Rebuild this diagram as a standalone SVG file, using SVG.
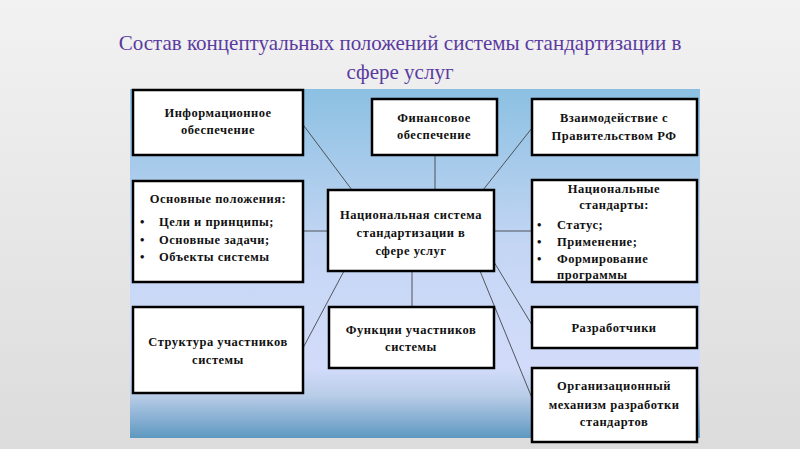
<svg xmlns="http://www.w3.org/2000/svg" width="800" height="449" viewBox="0 0 800 449">
<defs>
<linearGradient id="bg" x1="0" y1="0" x2="0" y2="1"><stop offset="0" stop-color="#f2f2f2"/><stop offset="1" stop-color="#dcdcdc"/></linearGradient>
<linearGradient id="pn" x1="0" y1="0" x2="0" y2="1">
<stop offset="0" stop-color="#8cc0e2"/><stop offset="0.45" stop-color="#c4d6f4"/><stop offset="0.8" stop-color="#d2dcfa"/><stop offset="0.88" stop-color="#b8cce8"/><stop offset="1" stop-color="#5e98c0"/></linearGradient>
</defs>
<style>
.b{fill:#fff;stroke:#000;stroke-width:2.5}
.t{font-family:"Liberation Serif","DejaVu Serif","Times New Roman",serif;font-size:12.5px;font-weight:bold;fill:#111;letter-spacing:0.5px}
.c{text-anchor:middle}
.h{font-family:"Liberation Serif","DejaVu Serif","Times New Roman",serif;font-size:21px;fill:#5a3aa0;text-anchor:middle}
#connectors line{stroke:#333;stroke-width:0.8}
</style>
<rect width="800" height="449" fill="url(#bg)"/>
<text class="h" x="400" y="50">Состав концептуальных  положений системы стандартизации в</text>
<text class="h" x="400" y="79">сфере услуг</text>
<rect x="130" y="89" width="570" height="349" fill="url(#pn)"/>
<g id="connectors">
<line x1="301" y1="122" x2="352" y2="190"/>
<line x1="435" y1="155" x2="435" y2="190"/>
<line x1="532" y1="128" x2="483" y2="190"/>
<line x1="303" y1="231" x2="328" y2="231"/>
<line x1="494" y1="231" x2="532" y2="231"/>
<line x1="344" y1="271" x2="303" y2="348"/>
<line x1="412" y1="271" x2="412" y2="307"/>
<line x1="480" y1="271" x2="532" y2="398"/>
<line x1="494" y1="262" x2="532" y2="325"/>
</g>
<g id="n-info"><rect class="b" x="133" y="90" width="170" height="65"/>
<text class="t c" x="218" y="117">Информационное</text><text class="t c" x="218" y="134">обеспечение</text></g>
<g id="n-fin"><rect class="b" x="372" y="99" width="125" height="56"/>
<text class="t c" x="434" y="122">Финансовое</text><text class="t c" x="434" y="139">обеспечение</text></g>
<g id="n-gov"><rect class="b" x="532" y="99" width="165" height="56"/>
<text class="t c" x="614" y="122">Взаимодействие с</text><text class="t c" x="614" y="140">Правительством РФ</text></g>
<g id="n-osn"><rect class="b" x="133" y="181" width="170" height="101"/>
<text class="t c" x="218" y="203">Основные положения:</text>
<text class="t" x="140" y="226">•</text><text class="t" x="159" y="226">Цели и принципы;</text>
<text class="t" x="140" y="244">•</text><text class="t" x="159" y="244">Основные задачи;</text>
<text class="t" x="140" y="261">•</text><text class="t" x="159" y="261">Объекты системы</text></g>
<g id="n-center"><rect class="b" x="328" y="190" width="166" height="81" stroke-width="3.5"/>
<text class="t c" x="411" y="219">Национальная система</text><text class="t c" x="411" y="237">стандартизации в</text><text class="t c" x="411" y="255">сфере услуг</text></g>
<g id="n-nat"><rect class="b" x="532" y="180" width="165" height="102"/>
<text class="t c" x="614" y="193">Национальные</text><text class="t c" x="614" y="209">стандарты:</text>
<text class="t" x="537" y="229">•</text><text class="t" x="557" y="229">Статус;</text>
<text class="t" x="537" y="246">•</text><text class="t" x="557" y="246">Применение;</text>
<text class="t" x="537" y="263">•</text><text class="t" x="557" y="263">Формирование</text>
<text class="t" x="557" y="279">программы</text></g>
<g id="n-str"><rect class="b" x="133" y="307" width="170" height="86"/>
<text class="t c" x="218" y="346">Структура участников</text><text class="t c" x="218" y="364">системы</text></g>
<g id="n-func"><rect class="b" x="329" y="307" width="165" height="61"/>
<text class="t c" x="411" y="334">Функции участников</text><text class="t c" x="411" y="351">системы</text></g>
<g id="n-dev"><rect class="b" x="532" y="307" width="165" height="41"/>
<text class="t c" x="614" y="332">Разработчики</text></g>
<g id="n-org"><rect class="b" x="532" y="368" width="165" height="74"/>
<text class="t c" x="614" y="390">Организационный</text><text class="t c" x="614" y="409">механизм разработки</text><text class="t c" x="614" y="426">стандартов</text></g>
</svg>
